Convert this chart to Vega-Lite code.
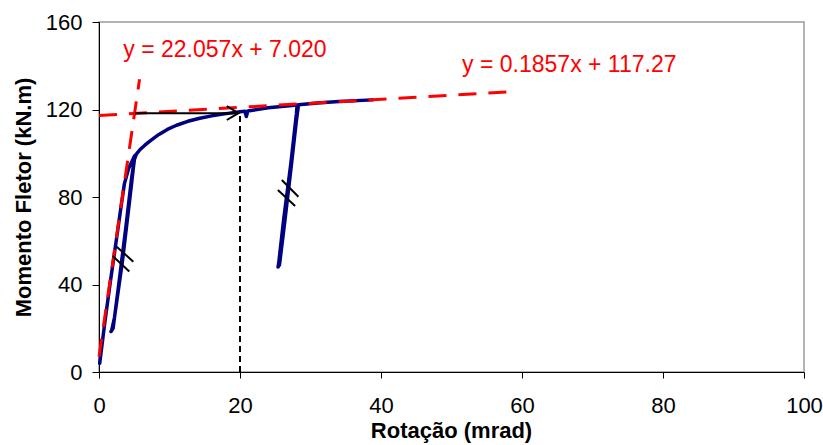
{
  "$schema": "https://vega.github.io/schema/vega-lite/v6.json",
  "width": 705,
  "height": 350,
  "autosize": {"type": "none"},
  "padding": {"left": 99, "top": 22, "right": 19, "bottom": 73},
  "background": "white",
  "config": {
    "font": "Liberation Sans",
    "view": {"stroke": "#9a9a9a", "strokeWidth": 1.5},
    "axis": {
      "grid": false,
      "domainColor": "#000",
      "domainWidth": 1,
      "tickColor": "#000",
      "tickWidth": 1,
      "labelColor": "#000",
      "labelFontSize": 22,
      "labelFlush": false,
      "labelOverlap": false,
      "labelBound": false,
      "titleColor": "#000",
      "titleFontSize": 22,
      "titleFontWeight": "bold"
    }
  },
  "datasets": {
    "curves": [
      {"s": "curve", "o": 1, "x": 0.1, "y": 4},
      {"s": "curve", "o": 2, "x": 0.8, "y": 22},
      {"s": "curve", "o": 3, "x": 1.6, "y": 41},
      {"s": "curve", "o": 4, "x": 2.4, "y": 59},
      {"s": "curve", "o": 5, "x": 3.1, "y": 75},
      {"s": "curve", "o": 6, "x": 3.6, "y": 86},
      {"s": "curve", "o": 7, "x": 4.2, "y": 93},
      {"s": "curve", "o": 8, "x": 5.0, "y": 98.5},
      {"s": "curve", "o": 9, "x": 5.1, "y": 99},
      {"s": "curve", "o": 10, "x": 4.9, "y": 94},
      {"s": "curve", "o": 11, "x": 4.4, "y": 80},
      {"s": "curve", "o": 12, "x": 3.3, "y": 50},
      {"s": "curve", "o": 13, "x": 2.2, "y": 25},
      {"s": "curve", "o": 14, "x": 1.8, "y": 19},
      {"s": "curve", "o": 15, "x": 1.7, "y": 18.5},
      {"s": "curve", "o": 16, "x": 2.0, "y": 20},
      {"s": "curve", "o": 17, "x": 2.8, "y": 40},
      {"s": "curve", "o": 18, "x": 3.8, "y": 66},
      {"s": "curve", "o": 19, "x": 4.6, "y": 88},
      {"s": "curve", "o": 20, "x": 5.0, "y": 97},
      {"s": "curve", "o": 21, "x": 5.3, "y": 99.6},
      {"s": "curve", "o": 22, "x": 5.8, "y": 101.6},
      {"s": "curve", "o": 23, "x": 6.5, "y": 103.7},
      {"s": "curve", "o": 24, "x": 7.4, "y": 106.0},
      {"s": "curve", "o": 25, "x": 8.5, "y": 108.6},
      {"s": "curve", "o": 26, "x": 9.7, "y": 110.9},
      {"s": "curve", "o": 27, "x": 11.0, "y": 112.8},
      {"s": "curve", "o": 28, "x": 12.6, "y": 114.6},
      {"s": "curve", "o": 29, "x": 14.3, "y": 116.0},
      {"s": "curve", "o": 30, "x": 16.0, "y": 117.1},
      {"s": "curve", "o": 31, "x": 17.8, "y": 118.0},
      {"s": "curve", "o": 32, "x": 20.0, "y": 119.0},
      {"s": "curve", "o": 33, "x": 20.7, "y": 119.2},
      {"s": "curve", "o": 34, "x": 20.9, "y": 116.8},
      {"s": "curve", "o": 35, "x": 21.1, "y": 119.3},
      {"s": "curve", "o": 36, "x": 24.0, "y": 120.8},
      {"s": "curve", "o": 37, "x": 28.1, "y": 122.1},
      {"s": "curve", "o": 38, "x": 28.0, "y": 118},
      {"s": "curve", "o": 39, "x": 27.2, "y": 95},
      {"s": "curve", "o": 40, "x": 26.2, "y": 70},
      {"s": "curve", "o": 41, "x": 25.5, "y": 50},
      {"s": "curve", "o": 42, "x": 25.4, "y": 48},
      {"s": "curve", "o": 43, "x": 25.6, "y": 49},
      {"s": "curve", "o": 44, "x": 26.4, "y": 70},
      {"s": "curve", "o": 45, "x": 27.3, "y": 95},
      {"s": "curve", "o": 46, "x": 28.0, "y": 115},
      {"s": "curve", "o": 47, "x": 28.3, "y": 122.2},
      {"s": "curve", "o": 48, "x": 31.0, "y": 123},
      {"s": "curve", "o": 49, "x": 34.0, "y": 123.7},
      {"s": "curve", "o": 50, "x": 38.8, "y": 124.4},

      {"s": "trend1", "o": 1, "x": 0, "y": 7.02},
      {"s": "trend1", "o": 2, "x": 5.75, "y": 133.85},
      {"s": "trend2", "o": 1, "x": 0, "y": 117.27},
      {"s": "trend2", "o": 2, "x": 58, "y": 128.04},

      {"s": "guide", "o": 1, "x": 20, "y": 0},
      {"s": "guide", "o": 2, "x": 20, "y": 118.3},

      {"s": "arrow", "o": 1, "x": 5.1, "y": 118.3},
      {"s": "arrow", "o": 2, "x": 19.77, "y": 118.3},
      {"s": "head", "o": 1, "x": 18.13, "y": 121.6},
      {"s": "head", "o": 2, "x": 19.77, "y": 118.3},
      {"s": "head", "o": 3, "x": 18.13, "y": 115.2},

      {"s": "break1a", "o": 1, "x": 2.51, "y": 57.3},
      {"s": "break1a", "o": 2, "x": 4.87, "y": 50.4},
      {"s": "break1b", "o": 1, "x": 1.94, "y": 53.0},
      {"s": "break1b", "o": 2, "x": 4.30, "y": 45.9},
      {"s": "break2a", "o": 1, "x": 25.93, "y": 87.8},
      {"s": "break2a", "o": 2, "x": 28.29, "y": 80.1},
      {"s": "break2b", "o": 1, "x": 25.37, "y": 83.2},
      {"s": "break2b", "o": 2, "x": 27.82, "y": 75.9}
    ],
    "equations": [
      {"x": 3.45, "y": 147.0, "label": "y = 22.057x + 7.020"},
      {"x": 51.5, "y": 140.3, "label": "y = 0.1857x + 117.27"}
    ]
  },
  "encoding": {
    "x": {
      "field": "x",
      "type": "quantitative",
      "scale": {"domain": [0, 100], "nice": false, "zero": false},
      "axis": {
        "values": [0, 20, 40, 60, 80, 100],
        "tickSize": 6,
        "labelBaseline": "alphabetic",
        "labelPadding": 34,
        "title": "Rotação (mrad)",
        "titleX": 352,
        "titleY": 65,
        "titleAlign": "center",
        "titleBaseline": "alphabetic"
      }
    },
    "y": {
      "field": "y",
      "type": "quantitative",
      "scale": {"domain": [0, 160], "nice": false, "zero": false},
      "axis": {
        "values": [0, 40, 80, 120, 160],
        "tickSize": 7,
        "labelPadding": 10,
        "title": "Momento Fletor (kN.m)",
        "titleX": -69,
        "titleY": 175,
        "titleAngle": 270,
        "titleAlign": "center",
        "titleBaseline": "alphabetic"
      }
    }
  },
  "layer": [
    {
      "data": {"name": "curves"},
      "transform": [{"filter": "datum.s === 'curve'"}],
      "mark": {"type": "line", "color": "#000080", "strokeWidth": 3.5, "strokeJoin": "round", "strokeCap": "round"},
      "encoding": {"order": {"field": "o", "type": "quantitative"}}
    },
    {
      "data": {"name": "curves"},
      "transform": [{"filter": "datum.s === 'trend1' || datum.s === 'trend2'"}],
      "mark": {"type": "line", "color": "#ff0000", "strokeWidth": 3, "strokeDash": [18, 12]},
      "encoding": {
        "detail": {"field": "s", "type": "nominal"},
        "order": {"field": "o", "type": "quantitative"}
      }
    },
    {
      "data": {"name": "curves"},
      "transform": [{"filter": "datum.s === 'guide'"}],
      "mark": {"type": "line", "color": "#000", "strokeWidth": 2, "strokeDash": [6, 4]},
      "encoding": {"order": {"field": "o", "type": "quantitative"}}
    },
    {
      "data": {"name": "curves"},
      "transform": [{"filter": "datum.s === 'arrow' || datum.s === 'head' || indexof(datum.s, 'break') === 0"}],
      "mark": {"type": "line", "color": "#000", "strokeWidth": 2},
      "encoding": {
        "detail": {"field": "s", "type": "nominal"},
        "order": {"field": "o", "type": "quantitative"}
      }
    },
    {
      "data": {"name": "equations"},
      "mark": {"type": "text", "color": "#ff0000", "fontSize": 23, "align": "left", "baseline": "middle"},
      "encoding": {"text": {"field": "label", "type": "nominal"}}
    }
  ]
}
